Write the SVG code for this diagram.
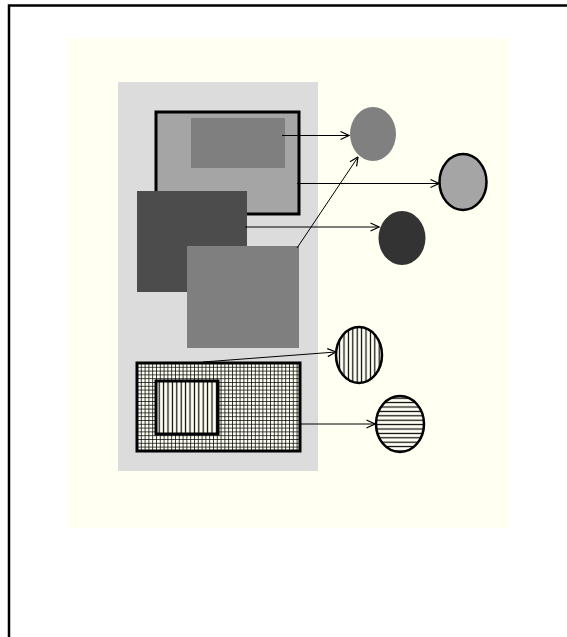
<svg xmlns="http://www.w3.org/2000/svg" width="567" height="637" viewBox="0 0 567 637">
<defs>
<style>
.conn{stroke:#000;stroke-width:1;fill:none;marker-end:url(#arr)}
.bold{stroke:#000;stroke-width:3}
</style>
<marker id="arr" viewBox="0 0 10 10" refX="9.5" refY="5" markerWidth="10" markerHeight="10" markerUnits="userSpaceOnUse" orient="auto">
<path d="M1,1 L9.5,5 L1,9" fill="none" stroke="#000" stroke-width="1.2"/>
</marker>
<pattern id="grid" width="3.8" height="3.8" patternUnits="userSpaceOnUse" x="137" y="363">
<rect width="3.8" height="3.8" fill="#fffff4"/>
<path d="M0,0 H3.8 M0,0 V3.8" stroke="#000" stroke-width="1.5"/>
</pattern>
<pattern id="vlines" width="4.4" height="10" patternUnits="userSpaceOnUse" x="157">
<rect width="4.4" height="10" fill="#fffff4"/>
<path d="M2.2,0 V10" stroke="#000" stroke-width="1.2"/>
</pattern>
<pattern id="hlines" width="10" height="4.4" patternUnits="userSpaceOnUse" y="396">
<rect width="10" height="4.4" fill="#fffff4"/>
<path d="M0,2.2 H10" stroke="#000" stroke-width="1.2"/>
</pattern>
</defs>
<rect x="0" y="0" width="567" height="637" fill="#fff"/>
<path d="M9,637 V5.5 H567" fill="none" stroke="#000" stroke-width="2.5"/>
<rect x="67" y="38" width="442" height="490" fill="#fffff2"/>
<rect id="panel" x="118" y="82" width="200" height="389" fill="#dcdcdc"/>
<g id="n-bigrect"><rect x="156" y="112" width="143" height="102" fill="#a5a5a5" class="bold"/></g>
<g id="n-inner"><rect x="191" y="118" width="94" height="50" fill="#7f7f7f"/></g>
<g id="n-dark"><rect x="137" y="191" width="110" height="101" fill="#4c4c4c"/></g>
<g id="n-mid"><rect x="187" y="246" width="112" height="102" fill="#7f7f7f"/></g>
<g id="n-grid"><rect x="137" y="363" width="163" height="88" fill="url(#grid)" class="bold"/></g>
<g id="n-vrect"><rect x="156" y="381" width="62" height="53" fill="url(#vlines)" class="bold"/></g>
<g id="c1"><ellipse cx="373" cy="134" rx="23" ry="27" fill="#808080"/></g>
<g id="c2"><ellipse cx="463" cy="182" rx="23.5" ry="28" fill="#a5a5a5" stroke="#000" stroke-width="2.5"/></g>
<g id="c3"><ellipse cx="402" cy="238" rx="23.5" ry="27" fill="#333"/></g>
<g id="c4"><ellipse cx="359" cy="355" rx="23" ry="28" fill="url(#vlines)" stroke="#000" stroke-width="2.5"/></g>
<g id="c5"><ellipse cx="400" cy="424" rx="24" ry="28" fill="url(#hlines)" stroke="#000" stroke-width="2.5"/></g>
<g id="connectors">
<line class="conn" x1="282" y1="135.5" x2="349" y2="135.5"/>
<line class="conn" x1="297" y1="183.5" x2="439" y2="183.5"/>
<line class="conn" x1="245" y1="227" x2="379" y2="227"/>
<line class="conn" x1="297" y1="248" x2="358" y2="157"/>
<line class="conn" x1="203" y1="362" x2="336" y2="352"/>
<line class="conn" x1="300" y1="424" x2="375" y2="424"/>
</g>
</svg>
